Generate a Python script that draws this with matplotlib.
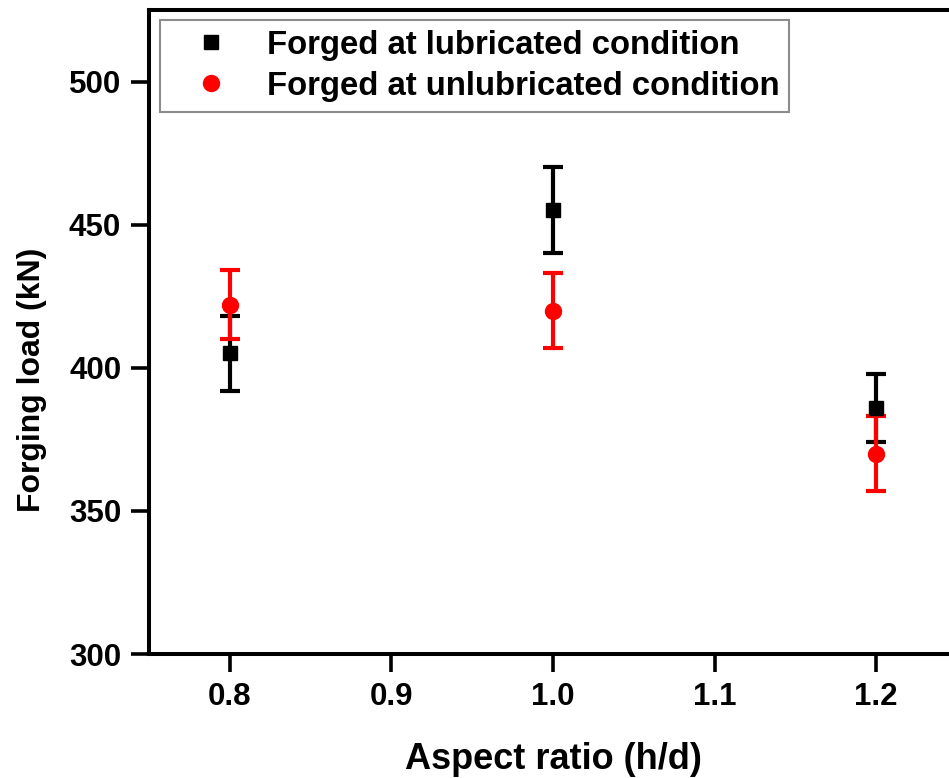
import numpy as np
import matplotlib
matplotlib.use("Agg")
import matplotlib.pyplot as plt

# aspect ratio (h/d)
aspect_ratio = [0.8, 1.0, 1.2]

# forging load (kN) and error, lubricated
load_lub = [405, 455, 386]
err_lub = [13, 15, 12]

# forging load (kN) and error, unlubricated
load_unlub = [422, 420, 370]
err_unlub = [12, 13, 13]

labels = ["Forged at lubricated condition", "Forged at unlubricated condition"]

plt.rcParams["font.family"] = ["Liberation Sans", "DejaVu Sans"]
plt.rcParams["font.weight"] = "bold"

fig = plt.figure(figsize=(9.49, 7.78), dpi=100)
W, H = 949, 778
ax = fig.add_axes([149 / W, 1 - 654 / H, (957 - 149) / W, (654 - 10) / H])

ax.errorbar(aspect_ratio, load_lub, yerr=err_lub, fmt="s", color="black",
            markersize=10, elinewidth=3, capsize=7, capthick=3,
            label=labels[0], linestyle="none")
ax.errorbar(aspect_ratio, load_unlub, yerr=err_unlub, fmt="o", color="#ff0000",
            markersize=11.5, elinewidth=3, capsize=7, capthick=3,
            label=labels[1], linestyle="none")

ax.set_xlim(0.75, 1.25)
ax.set_ylim(300, 525)
ax.set_xticks([0.8, 0.9, 1.0, 1.1, 1.2])
ax.set_xticklabels(["0.8", "0.9", "1.0", "1.1", "1.2"])
ax.set_yticks([300, 350, 400, 450, 500])

for s in ax.spines.values():
    s.set_linewidth(2.9)
ax.tick_params(axis="both", direction="out", length=13, width=2.6,
               labelsize=22.5, pad=7)
ax.tick_params(top=False, right=False)

ax.set_xlabel("Aspect ratio (h/d)", fontsize=26, fontweight="bold")
ax.xaxis.set_label_coords(0.5, -(742 - 654) / 644)
ax.set_ylabel("Forging load (kN)", fontsize=23, fontweight="bold")
ax.yaxis.set_label_coords(-(149 - 47) / 808, (654 - 380) / 644)

handles, lbls = ax.get_legend_handles_labels()
handles = [h[0] for h in handles]
leg = ax.legend(handles, lbls, loc="upper left",
                bbox_to_anchor=(160 / W, 1 - 20 / H), bbox_transform=fig.transFigure,
                borderaxespad=0, fontsize=23.7, frameon=True, fancybox=False,
                labelspacing=0.3, handletextpad=0.45, borderpad=0.3,
                handlelength=2.5)
leg.get_frame().set_edgecolor("#707070")
leg.get_frame().set_linewidth(1.5)

fig.savefig("out.png", dpi=100)
